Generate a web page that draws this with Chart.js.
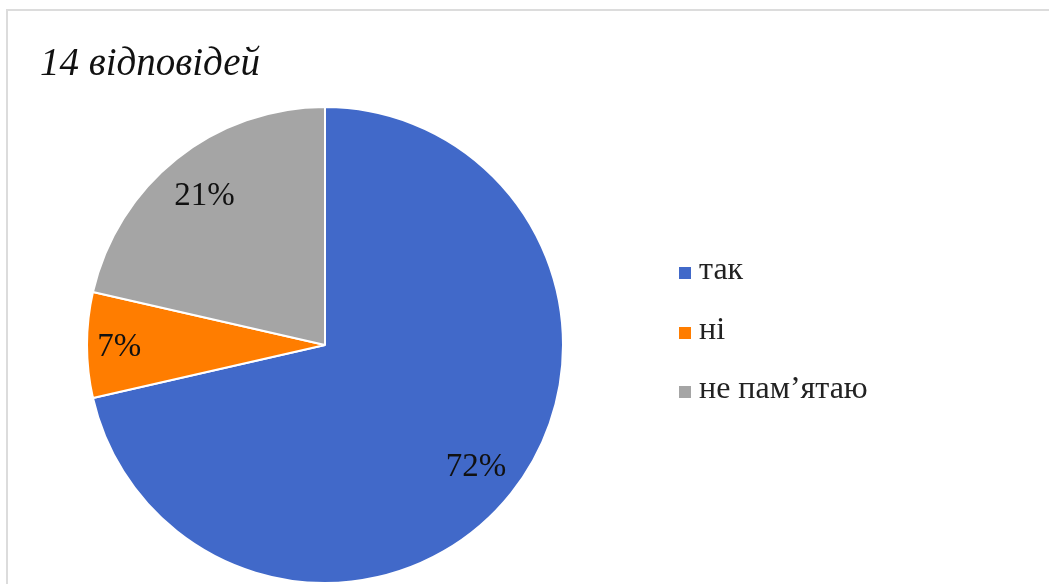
<!DOCTYPE html>
<html>
<head>
<meta charset="utf-8">
<script src="https://cdn.jsdelivr.net/npm/chart.js@4"></script>
<style>
    body { margin: 0; background: #fff; }
    #wrap { position: relative; width: 1049px; height: 584px; overflow: hidden; }
    #frame { position: absolute; left: 6px; top: 9px; width: 1100px; height: 700px; border-left: 2px solid #dcdcdc; border-top: 2px solid #dcdcdc; }
    #answers_chart { position: absolute; left: 0; top: 0; }
    #chart_title { position: absolute; left: 40px; top: 42px; font: italic 39px/1 "Liberation Serif", serif; color: #111; }
    #chart_legend { position: absolute; left: 679px; top: 252px; font: 32px/1 "Liberation Serif", serif; color: #222; }
    .legend_row { position: relative; height: 59.5px; }
    .legend_box { position: absolute; left: 0; top: 15px; width: 12px; height: 12px; }
    .legend_text { position: absolute; left: 20px; top: 0; white-space: nowrap; }
</style>
</head>
<body>
<div id="wrap">
    <div id="frame"></div>
    <canvas id="answers_chart" width="1049" height="584"></canvas>
    <div id="chart_title">14 відповідей</div>
    <div id="chart_legend"></div>
</div>
<script>
const answers_labels = ['так', 'ні', 'не пам’ятаю'];
const answers_counts = [10, 1, 3];
const answers_percent_labels = ['72%', '7%', '21%'];
const answers_colors = ['#4169c9', '#ff7d00', '#a5a5a5'];

// html legend
const legend_div = document.getElementById('chart_legend');
answers_labels.forEach(function (label, i) {
    const row = document.createElement('div');
    row.className = 'legend_row';
    row.innerHTML = '<span class="legend_box" style="background:' + answers_colors[i] + '"></span><span class="legend_text">' + label + '</span>';
    legend_div.appendChild(row);
});

const percent_labels_plugin = {
    id: 'percent_labels',
    afterDatasetsDraw(chart) {
        const ctx = chart.ctx;
        const meta = chart.getDatasetMeta(0);
        ctx.save();
        ctx.font = '33px "Liberation Serif", serif';
        ctx.fillStyle = '#111';
        ctx.textAlign = 'center';
        ctx.textBaseline = 'alphabetic';
        meta.data.forEach(function (arc, i) {
            const p = arc.getProps(['x', 'y', 'startAngle', 'endAngle', 'outerRadius']);
            const mid = (p.startAngle + p.endAngle) / 2;
            const r = p.outerRadius * (answers_counts[i] < 2 ? 0.865 : 0.812);
            // baseline shifted so digits sit centred on the point
            ctx.fillText(answers_percent_labels[i], p.x + Math.cos(mid) * r, p.y + Math.sin(mid) * r + 11);
        });
        ctx.restore();
    }
};

new Chart(document.getElementById('answers_chart'), {
    type: 'pie',
    data: {
        labels: answers_labels,
        datasets: [{
            data: answers_counts,
            backgroundColor: answers_colors,
            borderColor: '#ffffff',
            borderWidth: 2,
        }]
    },
    options: {
        responsive: false,
        animation: false,
        layout: {
            padding: { left: 86, right: 485, top: 106, bottom: 0 }
        },
        plugins: {
            legend: false,
            tooltip: { enabled: false }
        }
    },
    plugins: [percent_labels_plugin]
});
</script>
</body>
</html>
